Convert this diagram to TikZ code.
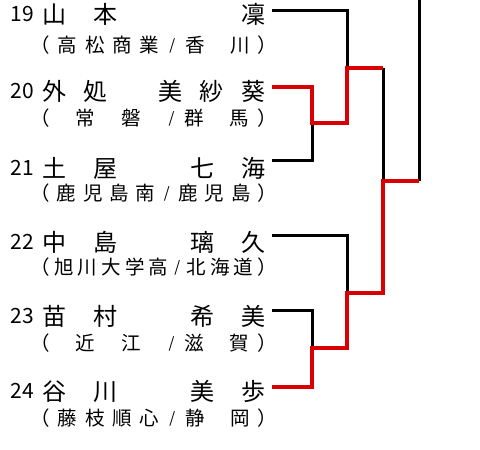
\documentclass[tikz,border=0pt]{standalone}
\usepackage{fontspec}
\setmainfont{Noto Sans CJK JP}
\usepackage{tikz}
\definecolor{WinRed}{HTML}{D80000}

% half-width pieces for the school line
\newcommand\lp{\makebox[.5em][r]{（}}
\newcommand\rp{\makebox[.5em][l]{）}}
\newcommand\sls{\makebox[.5em]{\raisebox{2pt}{\fontsize{15}{15}\selectfont /}}}
\newcommand\hs{\hbox to .5em{}}
% spread the tokens of a school line over the full width
\newcommand\affspread[1]{\affspreadfirst#1\relax}
\def\affspreadfirst#1{#1\affspreadrest}
\def\affspreadrest#1{\ifx\relax#1\else\hfill#1\expandafter\affspreadrest\fi}

\begin{document}
\begin{tikzpicture}[x=1pt,y=-1pt,
  pnum/.style={anchor=east,inner sep=0pt,font=\fontsize{21}{21}\selectfont},
  pname/.style={anchor=west,inner sep=0pt,font=\fontsize{24}{24}\selectfont},
  affil/.style={anchor=west,inner sep=0pt,font=\fontsize{19.5}{19.5}\selectfont},
  lose/.style={draw=black,line width=3pt},
  win/.style={draw=WinRed,line width=4pt},
]
\useasboundingbox (0,0) rectangle (480,450);

% entries
\node[pnum] (no19) at (34,14) {19};
\node[pname] (n19) at (42,14) {\hbox to 223pt{\hbox to 75pt{山\hfill 本}\hfill 凜}};
\node[affil] (a19) at (40,45) {\hbox to 227pt{\affspread{\lp 高松商業\sls 香\hs 川\rp}}};

\node[pnum] (no20) at (34,91) {20};
\node[pname] (n20) at (42,91) {\hbox to 223pt{\hbox to 65pt{外\hfill 処}\hfill\hbox to 107pt{美\hfill 紗\hfill 葵}}};
\node[affil] (a20) at (40,118) {\hbox to 227pt{\affspread{\lp\hs 常\hs 磐\hs\sls 群\hs 馬\rp}}};

\node[pnum] (no21) at (34,168) {21};
\node[pname] (n21) at (42,168) {\hbox to 223pt{\hbox to 75pt{土\hfill 屋}\hfill\hbox to 75pt{七\hfill 海}}};
\node[affil] (a21) at (40,193) {\hbox to 227pt{\affspread{\lp 鹿児島南\sls 鹿児島\rp}}};

\node[pnum] (no22) at (34,242) {22};
\node[pname] (n22) at (42,242) {\hbox to 223pt{\hbox to 75pt{中\hfill 島}\hfill\hbox to 75pt{璃\hfill 久}}};
\node[affil] (a22) at (40,267) {\hbox to 227pt{\affspread{\lp 旭川大学高\sls 北海道\rp}}};

\node[pnum] (no23) at (34,316) {23};
\node[pname] (n23) at (42,316) {\hbox to 223pt{\hbox to 75pt{苗\hfill 村}\hfill\hbox to 75pt{希\hfill 美}}};
\node[affil] (a23) at (40,343) {\hbox to 227pt{\affspread{\lp\hs 近\hs 江\hs\sls 滋\hs 賀\rp}}};

\node[pnum] (no24) at (34,391) {24};
\node[pname] (n24) at (42,391) {\hbox to 223pt{\hbox to 75pt{谷\hfill 川}\hfill\hbox to 75pt{美\hfill 歩}}};
\node[affil] (a24) at (40,418) {\hbox to 227pt{\affspread{\lp 藤枝順心\sls 静\hs 岡\rp}}};

% line starts and match points
\coordinate (s19) at (272,10);
\coordinate (s20) at (272,87);
\coordinate (s21) at (272,160);
\coordinate (s22) at (272,235);
\coordinate (s23) at (272,310);
\coordinate (s24) at (272,387);
\coordinate (m1) at (312,123);
\coordinate (m2) at (347,68);
\coordinate (m3) at (312,348);
\coordinate (m4) at (347,293);
\coordinate (m5) at (383,181);
\coordinate (m6) at (419,181);
\coordinate (up) at (419,0);

% bracket
\draw[lose] (s19) -| (m2);
\draw[lose] (s21) -| (m1);
\draw[lose] (s22) -| (m4);
\draw[lose] (s23) -| (m3);
\draw[lose] (m2 -| m5) -- (m5);
\draw[lose] (m6) -- (up);
\draw[win] (s20) -| (m1) -| (m2) -- (m2 -| m5);
\draw[win] (s24) -| (m3) -| (m4) -| (m5) -- (m6);
\end{tikzpicture}
\end{document}
